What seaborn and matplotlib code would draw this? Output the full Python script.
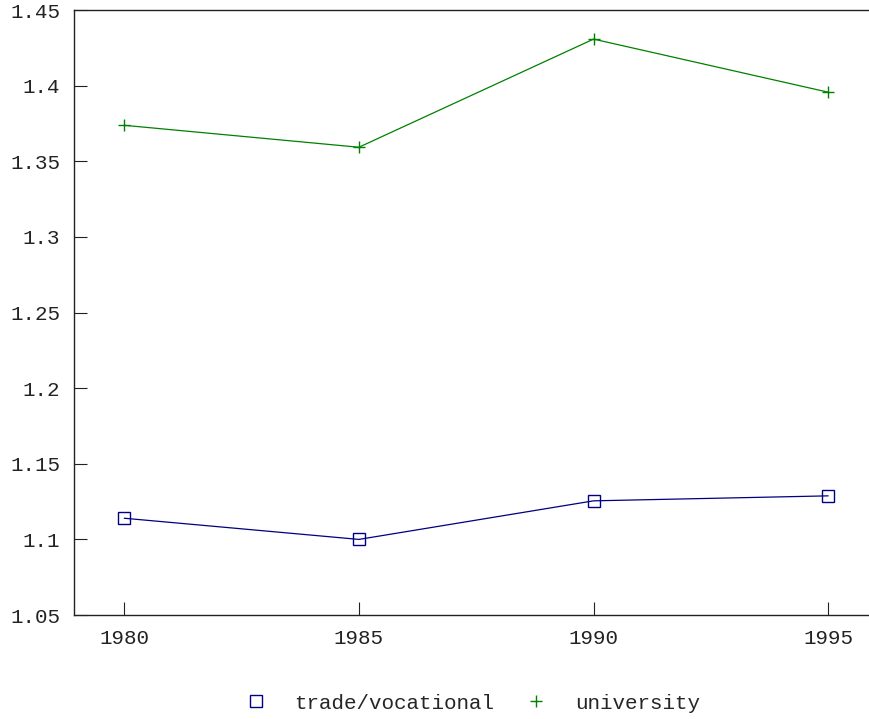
import matplotlib
matplotlib.use("Agg")
import matplotlib.pyplot as plt
import matplotlib.ticker as mticker
from matplotlib.lines import Line2D
import seaborn as sns
import pandas as pd

years = [1980, 1985, 1990, 1995]
trade = [1.114, 1.100, 1.1255, 1.1288]
university = [1.3738, 1.3593, 1.4308, 1.3957]
yticks = [1.05, 1.1, 1.15, 1.2, 1.25, 1.3, 1.35, 1.4, 1.45]

df = pd.DataFrame({
    "year": years * 2,
    "value": trade + university,
    "series": ["trade/vocational"] * 4 + ["university"] * 4,
})

sns.set_style("white")
plt.rcParams["font.family"] = ["Liberation Mono", "DejaVu Sans Mono"]

fig = plt.figure(figsize=(8.69, 7.19), dpi=100)
ax = fig.add_axes([0.0852, 0.1446, 0.9148, 0.8414])

colors = {"trade/vocational": "#000080", "university": "#008000"}
markers = {"trade/vocational": "s", "university": "+"}

for name, grp in df.groupby("series"):
    sns.lineplot(data=grp, x="year", y="value", ax=ax, color=colors[name],
                 linewidth=0.9, marker=markers[name], markersize=9,
                 markerfacecolor="none", markeredgecolor=colors[name],
                 markeredgewidth=1.0, legend=False)

ax.set_xlim(1978.93, 1995.87)
ax.set_ylim(1.05, 1.45)
ax.set_xticks(years)
ax.set_yticks(yticks)
ax.yaxis.set_major_formatter(mticker.FormatStrFormatter("%g"))
ax.set_xlabel("")
ax.set_ylabel("")
ax.tick_params(direction="in", length=9.4, width=0.8, pad=10, labelsize=15,
               colors="#222222", left=True, bottom=True, top=False, right=False)
for side in ["left", "bottom", "top"]:
    ax.spines[side].set_color("#222222")
    ax.spines[side].set_linewidth(1.0)
ax.spines["right"].set_visible(False)

handles = [
    Line2D([], [], linestyle="none", marker="s", markersize=9,
           markerfacecolor="none", markeredgecolor="#000080", markeredgewidth=1.0),
    Line2D([], [], linestyle="none", marker="+", markersize=9,
           markeredgecolor="#008000", markeredgewidth=1.0),
]
fig.legend(handles, ["trade/vocational", "university"], loc="center",
           bbox_to_anchor=(0.538, 0.0222), ncol=2, frameon=False, fontsize=15,
           handletextpad=0.85, columnspacing=1.0, borderpad=0)

fig.savefig("out.png", dpi=100)
